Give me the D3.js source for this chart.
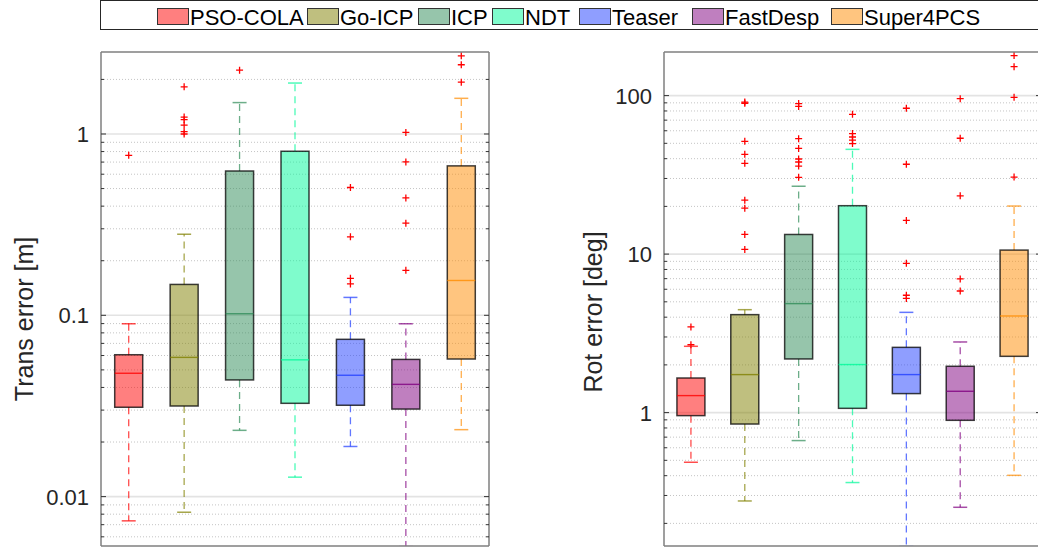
<!DOCTYPE html>
<html>
<head>
<meta charset="utf-8">
<script src="https://cdn.jsdelivr.net/npm/d3@7"></script>
<style>
  body { margin: 0; background: #fff; }
  svg { display: block; font-family: "Liberation Sans", Arial, Helvetica, sans-serif; }
</style>
</head>
<body>
<div id="chart"></div>
<script>
// methods + colours
const methods = ["PSO-COLA", "Go-ICP", "ICP", "NDT", "Teaser", "FastDesp", "Super4PCS"];
const lineColors = ["#ff0000", "#808000", "#2e8b57", "#00fa9a", "#1f3dff", "#800080", "#ff8c00"];

// translation error [m]
const transQ1  = [0.0311, 0.0316, 0.0440, 0.0327, 0.0319, 0.0304, 0.0574];
const transMed = [0.0479, 0.0586, 0.102, 0.0568, 0.0467, 0.0416, 0.1556];
const transQ3  = [0.0606, 0.148, 0.625, 0.803, 0.0737, 0.0571, 0.667];
const transLo  = [0.00735, 0.0082, 0.0232, 0.0128, 0.0189, 0.0053, 0.0234];
const transHi  = [0.0898, 0.280, 1.49, 1.91, 0.1255, 0.0898, 1.573];
const transOut = [
  [0.763],
  [1.82, 1.24, 1.2, 1.12, 1.03, 1.0],
  [2.25],
  [],
  [0.507, 0.271, 0.160, 0.149],
  [1.02, 0.701, 0.444, 0.322, 0.177],
  [2.70, 2.41, 1.93]
];

// rotation error [deg]
const rotQ1  = [0.957, 0.847, 2.18, 1.064, 1.318, 0.894, 2.265];
const rotMed = [1.28, 1.737, 4.87, 2.01, 1.737, 1.363, 4.07];
const rotQ3  = [1.653, 4.15, 13.3, 20.2, 2.58, 1.96, 10.6];
const rotLo  = [0.486, 0.277, 0.666, 0.362, 0.143, 0.2527, 0.402];
const rotHi  = [2.62, 4.46, 26.8, 45.8, 4.29, 2.79, 20.1];
const rotOut = [
  [3.47, 2.68],
  [91, 89.5, 51.5, 42.6, 37.4, 21.9, 19.5, 13.3, 10.7],
  [89, 85.5, 53.5, 46.4, 39.8, 38.1, 35.9, 30.5],
  [76.2, 57.6, 54.8, 52.3, 49.8],
  [83.2, 36.9, 16.3, 8.75, 5.5, 5.25],
  [95.7, 53.8, 23.3, 6.97, 5.85],
  [178.8, 152.3, 97.5, 30.6]
];

const transTicks = [0.01, 0.1, 1];
const rotTicks = [1, 10, 100];

const W = 1038, H = 548;
const svg = d3.select("#chart").append("svg")
  .attr("width", W).attr("height", H);

function drawPanel(p) {
  const x = d3.scaleLinear().domain([0.5, methods.length + 0.5]).range([p.left, p.right]);
  const y = d3.scaleLog().domain(p.domain).range([p.bottom, p.top]);
  const g = svg.append("g");

  const clipId = "clip" + p.id;
  svg.append("clipPath").attr("id", clipId)
    .append("rect")
    .attr("x", p.left).attr("y", p.top)
    .attr("width", p.right - p.left).attr("height", p.bottom - p.top);

  // grid: minor dotted, major solid
  const lo = Math.floor(Math.log10(p.domain[0])), hi = Math.ceil(Math.log10(p.domain[1]));
  const minor = [], major = [];
  for (let k = lo; k <= hi; k++) {
    for (let m = 1; m <= 9; m++) {
      const v = m * Math.pow(10, k);
      if (v < p.domain[0] || v > p.domain[1]) continue;
      (m === 1 ? major : minor).push(v);
    }
  }
  g.selectAll(".minor").data(minor).enter().append("line")
    .attr("x1", p.left).attr("x2", p.right)
    .attr("y1", d => y(d)).attr("y2", d => y(d))
    .attr("stroke", "#c4c4c4").attr("stroke-width", 1)
    .attr("stroke-dasharray", "1,2");
  g.selectAll(".major").data(major).enter().append("line")
    .attr("x1", p.left).attr("x2", p.right)
    .attr("y1", d => y(d)).attr("y2", d => y(d))
    .attr("stroke", "#e3e3e3").attr("stroke-width", 1.6);

  const plot = g.append("g").attr("clip-path", `url(#${clipId})`);
  const bw = 28;

  methods.forEach((m, i) => {
    const cx = x(i + 1), c = lineColors[i];
    const bg = plot.append("g");
    // whiskers
    [[p.q3[i], p.hi[i]], [p.q1[i], p.lo[i]]].forEach(([a, b]) => {
      bg.append("line")
        .attr("x1", cx).attr("x2", cx)
        .attr("y1", y(a)).attr("y2", y(b))
        .attr("stroke", c).attr("stroke-opacity", 0.7)
        .attr("stroke-width", 1.3)
        .attr("stroke-dasharray", "7,5");
      bg.append("line")
        .attr("x1", cx - bw / 4).attr("x2", cx + bw / 4)
        .attr("y1", y(b)).attr("y2", y(b))
        .attr("stroke", c).attr("stroke-opacity", 0.7)
        .attr("stroke-width", 1.5);
    });
    // box
    bg.append("rect")
      .attr("x", cx - bw / 2).attr("width", bw)
      .attr("y", y(p.q3[i])).attr("height", y(p.q1[i]) - y(p.q3[i]))
      .attr("fill", c).attr("fill-opacity", 0.5)
      .attr("stroke", "#000").attr("stroke-opacity", 0.75)
      .attr("stroke-width", 1.5);
    // median
    bg.append("line")
      .attr("x1", cx - bw / 2).attr("x2", cx + bw / 2)
      .attr("y1", y(p.med[i])).attr("y2", y(p.med[i]))
      .attr("stroke", c).attr("stroke-opacity", 0.8)
      .attr("stroke-width", 1.4);
    // outliers
    bg.selectAll(".out").data(p.out[i]).enter().append("path")
      .attr("d", d => `M${cx - 3.5},${y(d)}h7M${cx},${y(d) - 3.5}v7`)
      .attr("stroke", "#ff0000").attr("stroke-width", 1.3)
      .attr("fill", "none");
  });

  // axes box
  const ax = "#7f7f7f";
  g.append("line").attr("x1", p.left).attr("x2", p.left).attr("y1", p.top).attr("y2", p.bottom)
    .attr("stroke", ax).attr("stroke-width", 1.5);
  g.append("line").attr("x1", p.right).attr("x2", p.right).attr("y1", p.top).attr("y2", p.bottom)
    .attr("stroke", ax).attr("stroke-width", 1.5);
  g.append("line").attr("x1", p.left).attr("x2", p.right).attr("y1", p.top).attr("y2", p.top)
    .attr("stroke", ax).attr("stroke-width", 1.5);
  g.append("line").attr("x1", p.left).attr("x2", p.right).attr("y1", p.bottom).attr("y2", p.bottom)
    .attr("stroke", ax).attr("stroke-width", 1.5);

  // inward ticks on both sides
  const tickVals = major.map(v => ({ v, len: 5 })).concat(minor.map(v => ({ v, len: 3 })));
  [[p.left, 1], [p.right, -1]].forEach(([xx, dir]) => {
    g.selectAll(null).data(tickVals).enter().append("line")
      .attr("x1", xx).attr("x2", d => xx + dir * d.len)
      .attr("y1", d => y(d.v)).attr("y2", d => y(d.v))
      .attr("stroke", "#333").attr("stroke-width", 1);
  });

  // tick labels
  g.selectAll(".tl").data(p.ticks).enter().append("text")
    .attr("x", p.left - 12).attr("y", d => y(d)).attr("dy", "0.36em")
    .attr("text-anchor", "end")
    .attr("fill", "#262626").attr("font-size", 22)
    .text(d => d3.format("~g")(d));

  // y label
  g.append("text")
    .attr("transform", `translate(${p.labelX},${p.labelY}) rotate(-90)`)
    .attr("text-anchor", "middle")
    .attr("fill", "#262626").attr("font-size", 25)
    .text(p.label);
}

drawPanel({
  id: "t", left: 101, right: 489, top: 52, bottom: 546,
  domain: [0.00534, 2.833], ticks: transTicks,
  q1: transQ1, med: transMed, q3: transQ3, lo: transLo, hi: transHi, out: transOut,
  label: "Trans error [m]", labelX: 33, labelY: 319
});

drawPanel({
  id: "r", left: 664, right: 1041, top: 52, bottom: 546,
  domain: [0.144, 188.4], ticks: rotTicks,
  q1: rotQ1, med: rotMed, q3: rotQ3, lo: rotLo, hi: rotHi, out: rotOut,
  label: "Rot error [deg]", labelX: 602, labelY: 312
});

// legend
const legendX = [157, 307, 418, 492, 579, 692, 831];
const leg = svg.append("g");
leg.append("rect")
  .attr("x", 100.5).attr("y", 0.5).attr("width", 1000).attr("height", 29)
  .attr("fill", "#fff").attr("stroke", "#262626").attr("stroke-width", 1);
methods.forEach((m, i) => {
  leg.append("rect")
    .attr("x", legendX[i] + 0.5).attr("y", 8.5).attr("width", 31).attr("height", 16)
    .attr("fill", lineColors[i]).attr("fill-opacity", 0.5)
    .attr("stroke", "#333").attr("stroke-width", 1);
  leg.append("text")
    .attr("x", legendX[i] + 33).attr("y", 25)
    .attr("font-size", 22).attr("fill", "#000")
    .text(m);
});
</script>
</body>
</html>
